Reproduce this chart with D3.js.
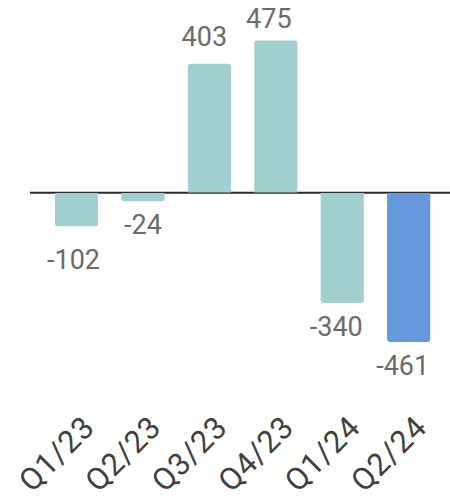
<!DOCTYPE html>
<html>
<head>
<meta charset="utf-8">
<script src="https://cdn.jsdelivr.net/npm/d3@7"></script>
<style>
  html, body { margin: 0; padding: 0; background: #fff; }
  svg { display: block; }
</style>
</head>
<body>
<div id="chart"></div>
<script>
// ---- data ----
const categories = ["Q1/23", "Q2/23", "Q3/23", "Q4/23", "Q1/24", "Q2/24"];
const values = [-102, -24, 403, 475, -340, -461];
const highlight = [false, false, false, false, false, true];

// ---- layout / style config ----
const W = 450, H = 501;
const labelNudgeX = [-3, 0, -5, -7, -6, -6];
const labelNudgeY = [10, 0, 0, 5, 0, 0];
const colorBase = "#A1CECE";
const colorHi = "#6699DB";

const svg = d3.select("#chart").append("svg")
  .attr("width", W).attr("height", H);

const x = d3.scaleBand()
  .domain(categories)
  .range([43.3, 441.9])
  .paddingInner(0.35)
  .paddingOuter(0.175);

const y = d3.scaleLinear()
  .domain([d3.min(values), d3.max(values)])
  .range([342, 40.5]);

const y0 = y(0);

// baseline axis line
svg.append("line")
  .attr("x1", 30).attr("x2", W)
  .attr("y1", y0 - 0.8).attr("y2", y0 - 0.8)
  .attr("stroke", "#2b2b2b").attr("stroke-width", 2);

// bar path with rounded far end
function barPath(d) {
  const bx = x(d.cat), bw = x.bandwidth();
  const r = 3;
  if (d.v >= 0) {
    const top = y(d.v), bot = y0 - 1;
    return `M${bx},${bot} L${bx},${top + r} Q${bx},${top} ${bx + r},${top} L${bx + bw - r},${top} Q${bx + bw},${top} ${bx + bw},${top + r} L${bx + bw},${bot} Z`;
  } else {
    const top = y0 - 0.5, bot = y(d.v);
    return `M${bx},${top} L${bx},${bot - r} Q${bx},${bot} ${bx + r},${bot} L${bx + bw - r},${bot} Q${bx + bw},${bot} ${bx + bw},${bot - r} L${bx + bw},${top} Z`;
  }
}

const data = categories.map((c, i) => ({ cat: c, v: values[i], hi: highlight[i], i }));

svg.append("g").selectAll("path")
  .data(data)
  .join("path")
  .attr("d", barPath)
  .attr("fill", d => d.hi ? colorHi : colorBase);

// value labels
svg.append("g").selectAll("text")
  .data(data)
  .join("text")
  .attr("x", d => x(d.cat) + x.bandwidth() / 2 + labelNudgeX[d.i])
  .attr("y", d => (d.v >= 0 ? y(d.v) - 18 : y(d.v) + 33) + labelNudgeY[d.i])
  .attr("text-anchor", "middle")
  .attr("font-family", "Roboto, 'Noto Sans', sans-serif")
  .attr("font-size", 27)
  .attr("fill", "#6b6b6b")
  .text(d => d.v);

// category axis with rotated labels
const axis = svg.append("g")
  .attr("transform", `translate(0, 429)`)
  .call(d3.axisBottom(x).tickSize(0));
axis.select(".domain").remove();
axis.selectAll("text")
  .attr("x", 0).attr("y", 0).attr("dy", 0)
  .attr("text-anchor", "end")
  .attr("transform", "translate(20,0) rotate(-45)")
  .attr("font-family", "Roboto, 'Noto Sans', sans-serif")
  .attr("font-size", 31)
  .attr("letter-spacing", 1)
  .attr("fill", "#404040");
</script>
</body>
</html>
